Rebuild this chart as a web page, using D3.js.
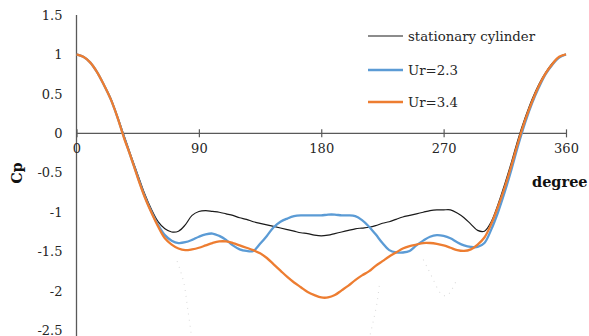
<!DOCTYPE html>
<html><head><meta charset="utf-8">
<script src="https://cdn.jsdelivr.net/npm/d3@7"></script>
<style>body{margin:0;background:#fff}svg{display:block}</style>
</head><body><svg id="c" width="589" height="336"></svg>
<script>
const degrees = [0,5,10,15,20,25,30,35,40,45,50,55,60,65,70,75,80,85,90,95,100,105,110,115,120,125,130,135,140,145,150,155,160,165,170,175,180,185,190,195,200,205,210,215,220,225,230,235,240,245,250,255,260,265,270,275,280,285,290,295,300,305,310,315,320,325,330,335,340,345,350,355,360];
const stationary = [1,0.97,0.9,0.78,0.62,0.45,0.22,-0.03,-0.28,-0.52,-0.76,-0.96,-1.12,-1.21,-1.25,-1.24,-1.16,-1.04,-0.99,-0.98,-0.99,-1.0,-1.02,-1.04,-1.07,-1.09,-1.12,-1.14,-1.16,-1.18,-1.2,-1.22,-1.24,-1.26,-1.27,-1.29,-1.3,-1.29,-1.27,-1.25,-1.23,-1.21,-1.2,-1.19,-1.17,-1.14,-1.12,-1.09,-1.06,-1.04,-1.02,-1.0,-0.98,-0.97,-0.97,-0.97,-1.01,-1.07,-1.15,-1.23,-1.24,-1.12,-0.9,-0.64,-0.36,-0.06,0.2,0.43,0.62,0.77,0.89,0.97,1];
const ur23 = [1,0.97,0.9,0.78,0.62,0.44,0.21,-0.05,-0.3,-0.55,-0.79,-0.99,-1.16,-1.29,-1.36,-1.39,-1.38,-1.35,-1.31,-1.28,-1.27,-1.3,-1.35,-1.42,-1.47,-1.49,-1.49,-1.4,-1.3,-1.19,-1.12,-1.08,-1.05,-1.04,-1.04,-1.04,-1.04,-1.03,-1.03,-1.04,-1.04,-1.05,-1.1,-1.18,-1.28,-1.39,-1.48,-1.51,-1.51,-1.49,-1.42,-1.36,-1.31,-1.29,-1.3,-1.33,-1.38,-1.42,-1.44,-1.44,-1.39,-1.22,-1.0,-0.74,-0.45,-0.14,0.14,0.38,0.58,0.75,0.87,0.96,1];
const ur34 = [1,0.97,0.9,0.78,0.62,0.44,0.21,-0.06,-0.3,-0.56,-0.8,-1.0,-1.18,-1.33,-1.41,-1.46,-1.48,-1.47,-1.45,-1.42,-1.39,-1.37,-1.37,-1.39,-1.42,-1.45,-1.48,-1.52,-1.58,-1.66,-1.74,-1.82,-1.89,-1.95,-2.01,-2.05,-2.08,-2.08,-2.05,-1.99,-1.93,-1.86,-1.8,-1.75,-1.68,-1.62,-1.56,-1.51,-1.46,-1.43,-1.41,-1.39,-1.39,-1.4,-1.42,-1.45,-1.48,-1.49,-1.47,-1.41,-1.32,-1.15,-0.93,-0.68,-0.4,-0.1,0.17,0.4,0.6,0.76,0.88,0.97,1];
// faint dotted trace (partly off-chart), NaN = gap
const dottedDeg = [74,76,79,82,85,NaN,215,218,221,223,NaN,255,258,262,268,272,276,280];
const dottedCp  = [-1.62,-1.72,-1.9,-2.25,-2.62,NaN,-2.62,-2.4,-2.15,-1.88,NaN,-1.6,-1.7,-1.84,-2.03,-2.06,-1.98,-1.84];
const xTicks = [0,90,180,270,360];
const yTicks = [1.5,1,0.5,0,-0.5,-1,-1.5,-2,-2.5];
const seriesNames = ["stationary cylinder","Ur=2.3","Ur=3.4"];
const seriesColors = ["#1a1a1a","#5B9BD5","#ED7D31"];
const seriesWidths = [1.2,2.3,2.3];

const svg = d3.select("#c");
const x = d3.scaleLinear().domain([0,360]).range([76.5,566]);
const y = d3.scaleLinear().domain([-2.5,1.5]).range([330.6,15]);
const font = "'DejaVu Serif', serif";
const axisColor = "#595959";

// axes lines
svg.append("line").attr("x1",x(0)).attr("x2",x(0)).attr("y1",y(1.5)).attr("y2",336)
  .attr("stroke",axisColor).attr("stroke-width",1.3);
svg.append("line").attr("x1",x(0)).attr("x2",x(360)).attr("y1",y(0)).attr("y2",y(0))
  .attr("stroke",axisColor).attr("stroke-width",1.3);

// x axis ticks (crossing)
const xa = svg.append("g").attr("transform",`translate(0,${y(0)-4})`)
  .call(d3.axisBottom(x).tickValues(xTicks).tickSize(8).tickPadding(6).tickFormat(d3.format("d")));
xa.select(".domain").remove();
xa.selectAll(".tick line").attr("stroke",axisColor).attr("stroke-width",1.2);
xa.selectAll(".tick text").attr("font-family",font).attr("font-size",13).attr("fill","#262626");

const ya = svg.append("g").attr("transform",`translate(${x(0)},0)`)
  .call(d3.axisLeft(y).tickValues(yTicks).tickSize(0).tickPadding(14).tickFormat(d=>String(d)));
ya.select(".domain").remove();
ya.selectAll(".tick text").attr("font-family",font).attr("font-size",13).attr("fill","#262626");

// dotted trace
const dpts = dottedDeg.map((d,i)=>[d,dottedCp[i]]);
svg.append("path").datum(dpts)
  .attr("d", d3.line().defined(p=>!isNaN(p[0])).x(p=>x(p[0])).y(p=>y(p[1])).curve(d3.curveCatmullRom))
  .attr("fill","none").attr("stroke","#dcdcdc").attr("stroke-width",1.1).attr("stroke-dasharray","1,5");

const line = d3.line().x(p=>x(p[0])).y(p=>y(p[1])).curve(d3.curveCatmullRom.alpha(0.5));
[stationary,ur23,ur34].forEach((vals,i)=>{
  svg.append("path").datum(degrees.map((d,j)=>[d,vals[j]]))
    .attr("d",line).attr("fill","none").attr("stroke",seriesColors[i])
    .attr("stroke-width",seriesWidths[i]).attr("stroke-linejoin","round");
});

// legend
const ly = [36,70,102];
seriesNames.forEach((n,i)=>{
  svg.append("line").attr("x1",368).attr("x2",403).attr("y1",ly[i]).attr("y2",ly[i])
    .attr("stroke",seriesColors[i]).attr("stroke-width",seriesWidths[i]);
  svg.append("text").attr("x",408).attr("y",ly[i]).attr("dy","0.35em")
    .attr("font-family",font).attr("font-size",13.3).attr("fill","#262626").text(n);
});

// axis titles
svg.append("text").attr("x",532).attr("y",187).attr("font-family",font).attr("font-size",14.5)
  .attr("font-weight","bold").attr("fill","#111").text("degree");
svg.append("text").attr("transform","translate(22,173) rotate(-90)").attr("text-anchor","middle")
  .attr("font-family",font).attr("font-size",14).attr("font-weight","bold").attr("fill","#111").text("Cp");
</script></body></html>
